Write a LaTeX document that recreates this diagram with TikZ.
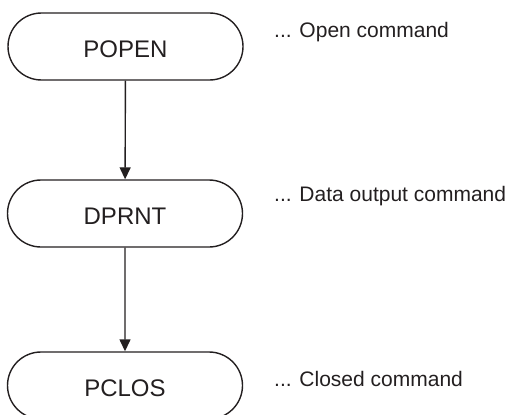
\documentclass[tikz,border=0pt]{standalone}
\usepackage{fontspec}
\setmainfont{Liberation Sans}
\usetikzlibrary{shapes.misc,arrows.meta}
\definecolor{ink}{HTML}{231F20}
\begin{document}
\begin{tikzpicture}[x=1pt,y=-1pt,
  term/.style={rounded rectangle, draw=ink, line width=1.4pt, minimum width=235pt, minimum height=67pt,
    text=ink, font=\fontsize{24}{28}\selectfont, text height=22pt, text depth=0pt, inner sep=0pt},
  note/.style={anchor=base west, text=ink, font=\fontsize{21}{24}\selectfont, inner sep=0pt},
  flow/.style={draw=ink, line width=1.4pt, -{Triangle[width=11pt,length=12pt]}}]
\useasboundingbox (0,0) rectangle (509,415);
\node[term] (popen) at (125.5,46.5) {POPEN};
\node[term] (dprnt) at (125,213.5) {DPRNT};
\node[term] (pclos) at (125,385.5) {PCLOS};
\node[note] (n1) at (274,37) {... Open command};
\node[note] (n2) at (274,201) {... Data output command};
\node[note] (n3) at (274,386) {... Closed command};
\draw[flow] (popen) -- (dprnt);
\draw[flow] (dprnt) -- (pclos);
\end{tikzpicture}
\end{document}
